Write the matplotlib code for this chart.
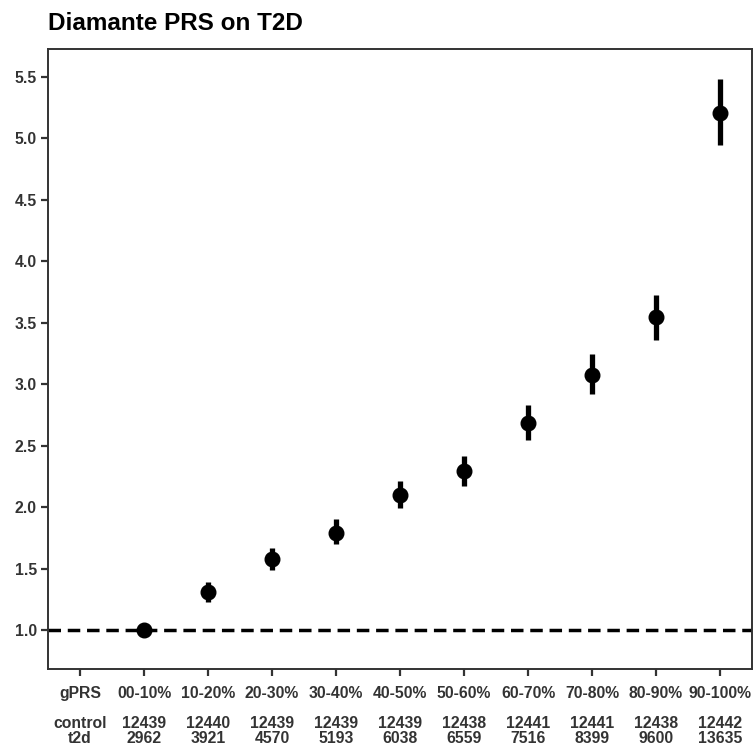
import matplotlib
matplotlib.use("Agg")
import matplotlib.pyplot as plt

plt.rcParams['font.family'] = ['Liberation Sans', 'DejaVu Sans']

groups = ["00-10%", "10-20%", "20-30%", "30-40%", "40-50%",
          "50-60%", "60-70%", "70-80%", "80-90%", "90-100%"]
control_n = [12439, 12440, 12439, 12439, 12439, 12438, 12441, 12441, 12438, 12442]
t2d_n = [2962, 3921, 4570, 5193, 6038, 6559, 7516, 8399, 9600, 13635]
odds_ratio = [1.00, 1.31, 1.575, 1.79, 2.095, 2.295, 2.685, 3.075, 3.545, 5.21]
ci_low = [1.00, 1.23, 1.49, 1.70, 1.99, 2.17, 2.55, 2.92, 3.36, 4.95]
ci_high = [1.00, 1.39, 1.67, 1.90, 2.21, 2.42, 2.83, 3.245, 3.73, 5.485]

fig = plt.figure(figsize=(7.53, 7.54), dpi=100)
ax = fig.add_axes([48 / 753, 1 - 669 / 754, (752 - 48) / 753, (669 - 49) / 754])

xs = list(range(1, len(groups) + 1))
yerr = [[o - l for o, l in zip(odds_ratio, ci_low)],
        [h - o for o, h in zip(odds_ratio, ci_high)]]

ax.axhline(1.0, color='black', lw=2.5, ls=(0, (3.6, 1.95)), zorder=1)
ax.errorbar(xs, odds_ratio, yerr=yerr, fmt='o', color='black', ms=10.5,
            elinewidth=3.8, capsize=0, zorder=3)

ax.set_xlim(-0.5, 10.5)
ax.set_ylim(0.683, 5.728)
ax.set_yticks([1.0, 1.5, 2.0, 2.5, 3.0, 3.5, 4.0, 4.5, 5.0, 5.5])
ax.set_yticklabels([f"{v:.1f}" for v in ax.get_yticks()])

labels = ["gPRS\n\ncontrol\nt2d"] + [f"{g}\n\n{c}\n{t}" for g, c, t in zip(groups, control_n, t2d_n)]
ax.set_xticks([0] + xs)
ax.set_xticklabels(labels, linespacing=1.02)

for lab in ax.get_xticklabels() + ax.get_yticklabels():
    lab.set_fontweight('bold')
    lab.set_fontsize(11.3)
    lab.set_color('#333333')

ax.tick_params(axis='both', length=5, width=1.6, color='#333333', pad=3)
ax.tick_params(axis='x', pad=7)
for s in ax.spines.values():
    s.set_linewidth(1.4)
    s.set_color('#333333')

fig.text(48 / 753, 1 - 23 / 754, "Diamante PRS on T2D", fontsize=17.5,
         fontweight='bold', va='center', ha='left')

fig.savefig("out.png", dpi=100, facecolor='white')
